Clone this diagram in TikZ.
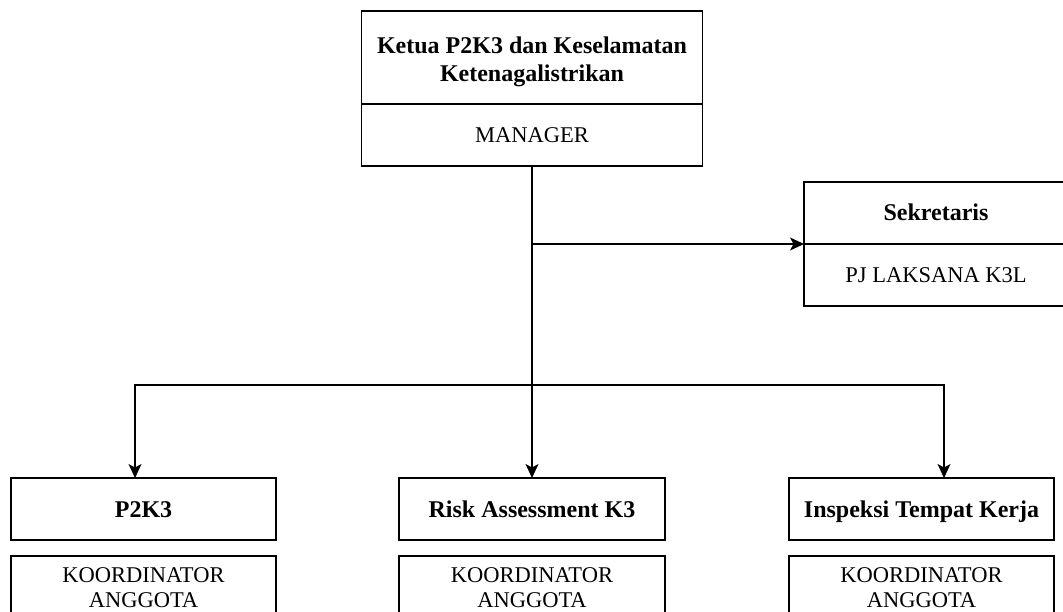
\documentclass[tikz,border=0pt]{standalone}
\usepackage{fontspec}
\setmainfont{Liberation Serif}
\usetikzlibrary{arrows.meta,calc}
\begin{document}
\begin{tikzpicture}[x=1pt,y=-1pt,
  every node/.style={inner sep=0pt,outer sep=0pt},
  box/.style={draw,line width=1.2pt,rectangle,align=center,minimum width=#1},
  box/.default=265,
  ttl/.style={font=\fontsize{24}{28.5}\selectfont\bfseries},
  sub/.style={font=\fontsize{22.5}{25}\selectfont},
  one/.style={text height=16,text depth=0},
  onesub/.style={text height=15,text depth=0},
  arr/.style={line width=1.2pt,-{Stealth[length=14pt,width=13pt,inset=3.5pt]}},
  ln/.style={line width=1.2pt}]
\useasboundingbox (0,0) rectangle (1063,612);
% top
\node[box=341,minimum height=93,ttl] (ketua) at (532,57.5) {\rule{0pt}{25pt}Ketua P2K3 dan Keselamatan\\Ketenagalistrikan};
\node[box=341,minimum height=62,sub,onesub] (mgr) at (532,135) {MANAGER};
% sekretaris
\node[box=264,minimum height=62,ttl,one] (sekt) at (936,213) {Sekretaris};
\node[box=264,minimum height=62,sub,onesub] (seks) at (936,275) {PJ LAKSANA K3L};
% bottom
\node[box=265,minimum height=62,ttl,one] (p2k3) at (143.5,509) {P2K3};
\node[box=266,minimum height=62,ttl,one] (risk) at (532,509) {Risk Assessment K3};
\node[box=265,minimum height=62,ttl,one] (insp) at (921.5,509) {Inspeksi Tempat Kerja};
\node[box=265,minimum height=64,sub] (p2k3s) at (143.5,588) {KOORDINATOR\\ANGGOTA};
\node[box=266,minimum height=64,sub] (risks) at (532,588) {KOORDINATOR\\ANGGOTA};
\node[box=265,minimum height=64,sub] (insps) at (921.5,588) {KOORDINATOR\\ANGGOTA};
% connectors
\coordinate (j1) at (risk.north |- sekt.south west);
\coordinate (j2) at (risk.north |- 0,385);
\coordinate (tl) at ($(p2k3.north)+(-8.5,0)$);
\coordinate (tr) at ($(insp.north)+(22.5,0)$);
\draw[arr] (mgr.south) -- (risk.north);
\draw[arr] (j1) -- (sekt.south west);
\draw[arr] (j2) -| (tl);
\draw[arr] (j2) -| (tr);
\end{tikzpicture}
\end{document}
